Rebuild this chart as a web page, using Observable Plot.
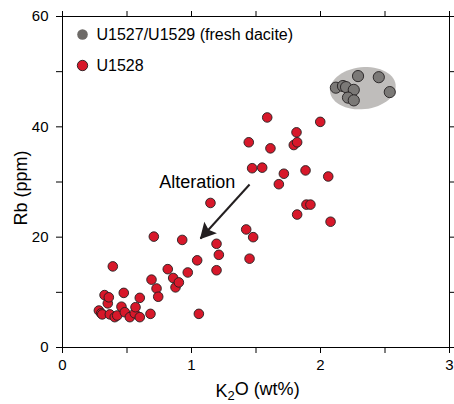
<!DOCTYPE html>
<html>
<head>
<meta charset="utf-8">
<script src="https://cdn.jsdelivr.net/npm/d3@7"></script>
<script src="https://cdn.jsdelivr.net/npm/@observablehq/plot@0.6"></script>
<style>
  html, body { margin: 0; padding: 0; background: white; }
  #chart { width: 454px; height: 404px; }
</style>
</head>
<body>
<div id="chart"></div>
<script>
// ---- data (K2O wt%, Rb ppm) ----
const freshDacite = [
  [2.119, 47.1], [2.174, 47.4], [2.198, 47.2], [2.258, 46.7], [2.291, 49.2],
  [2.452, 49.0], [2.537, 46.3], [2.213, 45.3], [2.258, 44.8]
];
const u1528 = [
  [0.282, 6.7], [0.300, 6.2], [0.308, 6.0], [0.326, 9.5], [0.351, 8.0], [0.359, 9.1],
  [0.367, 6.0], [0.405, 5.5], [0.424, 5.8], [0.390, 14.7], [0.457, 7.4], [0.475, 9.9],
  [0.483, 6.4], [0.522, 5.5], [0.560, 6.2], [0.566, 7.3], [0.599, 9.0], [0.599, 5.5],
  [0.682, 6.1], [0.690, 12.3], [0.708, 20.1], [0.729, 10.7], [0.742, 9.2], [0.816, 14.2],
  [0.858, 12.6], [0.876, 10.9], [0.902, 11.8], [0.928, 19.5], [0.971, 13.6], [1.044, 15.8],
  [1.057, 6.1], [1.147, 26.2], [1.194, 18.8], [1.212, 16.8], [1.194, 14.0], [1.424, 21.4],
  [1.444, 37.2], [1.450, 16.1], [1.478, 20.0], [1.470, 32.5], [1.548, 32.6], [1.587, 41.7],
  [1.612, 36.1], [1.677, 29.6], [1.716, 31.5], [1.793, 36.7], [1.819, 37.2], [1.814, 39.0],
  [1.819, 24.1], [1.884, 32.1], [1.891, 25.9], [1.922, 25.9], [1.998, 40.9], [2.060, 31.0],
  [2.078, 22.8]
];
const legendLabels = ["U1527/U1529 (fresh dacite)", "U1528"];
const annotation = {text: "Alteration", k: 1.044, rb: 30.0};
const arrowStart = {k: 1.450, rb: 29.55};
const arrowTip = {k: 1.070, rb: 19.75};
const xTicks = [0, 0.5, 1, 1.5, 2, 2.5, 3];
const yTicks = [0, 10, 20, 30, 40, 50, 60];
const xTickLabels = [0, 1, 2, 3];
const yTickLabels = [0, 20, 40, 60];
const xLabel = "K2O (wt%)";
const yLabel = "Rb (ppm)";

const RED = "#d7182a", GRAY = "#7b7977", BLOB = "#bfbdbb", INK = "#231f20";
const FONT = "'Liberation Sans', Arial, Helvetica, sans-serif";

// envelope centred on the middle of the fresh-dacite extent
const daciteCentre = [
  (d3.min(freshDacite, d => d[0]) + d3.max(freshDacite, d => d[0])) / 2,
  (d3.min(freshDacite, d => d[1]) + d3.max(freshDacite, d => d[1])) / 2
];
const blobShape = {
  draw(ctx) {
    const n = 60, rx = 33, ry = 21;
    for (let i = 0; i < n; i++) {
      const t = 2 * Math.PI * i / n;
      const x = rx * Math.cos(t), y = ry * Math.sin(t);
      if (i === 0) ctx.moveTo(x, y); else ctx.lineTo(x, y);
    }
    ctx.closePath();
  }
};

const arrowHead = {
  draw(ctx) {
    ctx.moveTo(1, 0);
    ctx.lineTo(-15, -8.5);
    ctx.lineTo(-12, 0);
    ctx.lineTo(-15, 8.5);
    ctx.closePath();
  }
};

function make(angle) {
  return Plot.plot({
    width: 454,
    height: 404,
    marginLeft: 62,
    marginRight: 5,
    marginTop: 16,
    marginBottom: 57,
    style: {fontFamily: FONT, fontSize: "15px", background: "white", color: "black"},
    x: {domain: [0, 3]},
    y: {domain: [0, 60]},
    marks: [
      Plot.frame({stroke: "black", strokeWidth: 1}),
      Plot.axisX({anchor: "bottom", ticks: xTicks, tickSize: 6, tickPadding: 6, label: null,
        tickFormat: d => xTickLabels.includes(d) ? String(d) : "", fontSize: 15}),
      Plot.axisX({anchor: "top", ticks: xTicks, tickSize: 6, label: null, tickFormat: () => ""}),
      Plot.axisY({anchor: "left", ticks: yTicks, tickSize: 6, tickPadding: 8, label: null,
        tickFormat: d => yTickLabels.includes(d) ? String(d) : "", fontSize: 15}),
      Plot.axisY({anchor: "right", ticks: yTicks, tickSize: 6, label: null, tickFormat: () => ""}),
      // grey envelope around the fresh dacite samples
      Plot.dot([daciteCentre], {x: d => d[0], y: d => d[1], symbol: blobShape, rotate: -6,
        fill: BLOB, stroke: "none"}),
      Plot.dot(freshDacite, {x: d => d[0], y: d => d[1], r: 5.6, fill: GRAY, stroke: INK, strokeWidth: 0.9}),
      Plot.dot(u1528, {x: d => d[0], y: d => d[1], r: 4.8, fill: RED, stroke: INK, strokeWidth: 0.9}),
      // annotation arrow
      Plot.link([0], {x1: () => arrowStart.k, y1: () => arrowStart.rb, x2: () => arrowTip.k, y2: () => arrowTip.rb,
        stroke: INK, strokeWidth: 2}),
      Plot.dot([0], {x: () => arrowTip.k, y: () => arrowTip.rb, symbol: arrowHead, rotate: angle,
        fill: INK, stroke: "none"}),
      Plot.text([annotation.text], {x: () => annotation.k, y: () => annotation.rb, text: d => d,
        fontSize: 18, textAnchor: "middle", lineAnchor: "middle", fill: "black"}),
      // legend
      Plot.dot([0], {frameAnchor: "top-left", dx: 20, dy: 18, r: 5.3, fill: "#6d6a67", stroke: "none"}),
      Plot.dot([0], {frameAnchor: "top-left", dx: 20, dy: 49, r: 5.2, fill: RED, stroke: INK, strokeWidth: 0.9}),
      Plot.text([legendLabels[0]], {frameAnchor: "top-left", dx: 34, dy: 18, text: d => d,
        fontSize: 16, textAnchor: "start", lineAnchor: "middle", fill: "black"}),
      Plot.text([legendLabels[1]], {frameAnchor: "top-left", dx: 34, dy: 49, text: d => d,
        fontSize: 16, textAnchor: "start", lineAnchor: "middle", fill: "black"}),
      // axis titles
      Plot.text([xLabel], {frameAnchor: "bottom", dx: 1.5, dy: 49, text: d => d,
        fontSize: 18, textAnchor: "middle", lineAnchor: "bottom", fill: "black"}),
      Plot.text([yLabel], {frameAnchor: "left", dx: -36, dy: 6, rotate: -90, text: d => d,
        fontSize: 18, textAnchor: "middle", lineAnchor: "bottom", fill: "black"})
    ]
  });
}

// first pass: get scales to orient the arrow head along the arrow
const probe = make(0);
const sx = probe.scale("x"), sy = probe.scale("y");
const angle = Math.atan2(sy.apply(arrowTip.rb) - sy.apply(arrowStart.rb),
                         sx.apply(arrowTip.k) - sx.apply(arrowStart.k)) * 180 / Math.PI;
const chart = make(angle);

// subscript in the x-axis title
d3.select(chart).selectAll("text").filter(function() { return this.textContent === xLabel; })
  .each(function() {
    const t = d3.select(this);
    t.selectAll("*").remove();
    t.text(null);
    t.append("tspan").text("K");
    t.append("tspan").attr("font-size", 13).attr("dy", "0.3em").text("2");
    t.append("tspan").attr("dy", "-0.3em").text("O (wt%)");
  });

document.getElementById("chart").appendChild(chart);
</script>
</body>
</html>
